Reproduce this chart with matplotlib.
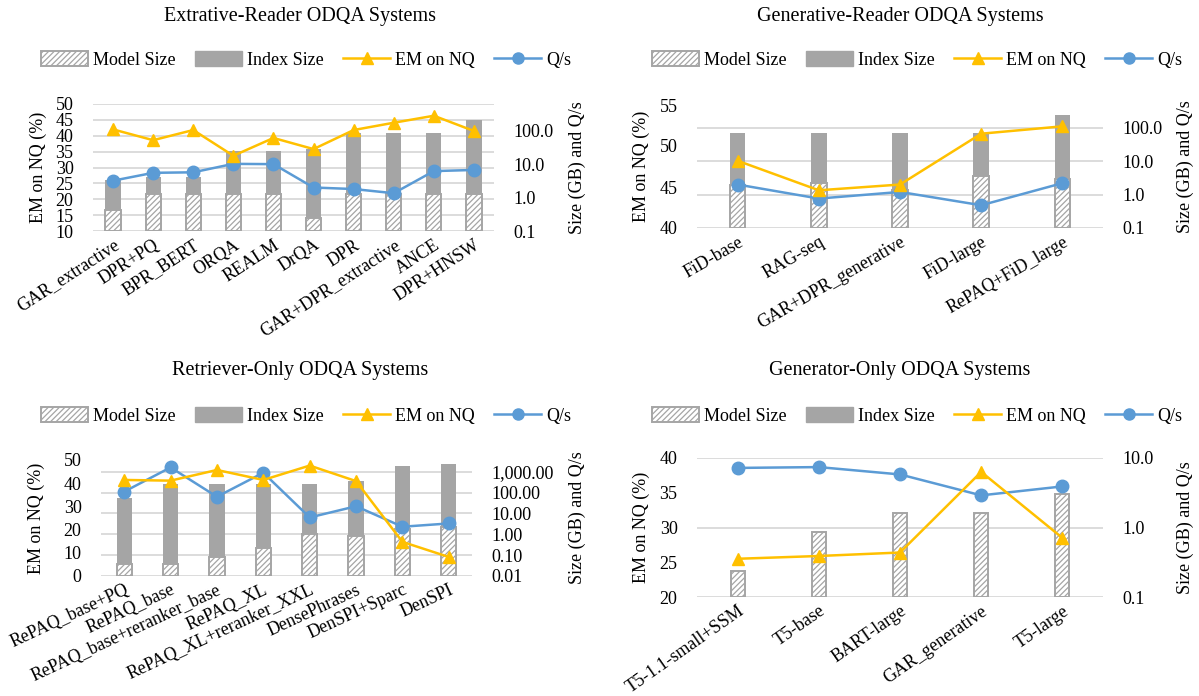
import numpy as np
import matplotlib
matplotlib.use('Agg')
import matplotlib.pyplot as plt
from matplotlib.patches import Patch
from matplotlib.lines import Line2D
from matplotlib import transforms
from matplotlib.ticker import FuncFormatter, NullLocator

# ---------------------------------------------------------------------------
# Data
# ---------------------------------------------------------------------------

ext_systems = ['GAR_extractive', 'DPR+PQ', 'BPR_BERT', 'ORQA', 'REALM', 'DrQA',
               'DPR', 'GAR+DPR_extractive', 'ANCE', 'DPR+HNSW']
ext_model = [0.43, 1.3, 1.3, 1.3, 1.3, 0.25, 1.3, 1.3, 1.3, 1.3]
ext_index = [3.3, 4.0, 4.0, 24, 24, 28, 87, 87, 87, 205]
ext_em = [42.0, 38.6, 41.8, 33.7, 39.3, 35.8, 41.8, 44.1, 46.3, 41.5]
ext_qps = [3.2, 5.5, 5.7, 10.2, 10.0, 2.0, 1.8, 1.35, 6.2, 6.7]

gen_systems = ['FiD-base', 'RAG-seq', 'GAR+DPR_generative', 'FiD-large',
               'RePAQ+FiD_large']
gen_model = [1.9, 2.2, 1.35, 3.5, 3.0]
gen_index = [71, 71, 71, 71, 240]
gen_em = [48.2, 44.6, 45.3, 51.5, 52.4]
gen_qps = [2.0, 0.76, 1.2, 0.48, 2.2]

ret_systems = ['RePAQ_base+PQ', 'RePAQ_base', 'RePAQ_base+reranker_base',
               'RePAQ_XL', 'RePAQ_XL+reranker_XXL', 'DensePhrases',
               'DenSPI+Sparc', 'DenSPI']
ret_model = [0.039, 0.039, 0.082, 0.22, 1.0, 0.81, 1.7, 2.3]
ret_index = [56, 255, 255, 255, 255, 370, 1870, 2340]
ret_em = [41.4, 41.1, 45.7, 41.4, 47.6, 40.9, 14.7, 8.2]
ret_qps = [110, 1600, 63, 890, 6.4, 22, 2.3, 3.3]

gon_systems = ['T5-1.1-small+SSM', 'T5-base', 'BART-large', 'GAR_generative',
               'T5-large']
gon_model = [0.24, 0.87, 1.6, 1.6, 3.0]
gon_index = [0, 0, 0, 0, 0]
gon_em = [25.5, 25.9, 26.4, 38.0, 28.5]
gon_qps = [7.2, 7.4, 5.8, 2.9, 3.9]

# ---------------------------------------------------------------------------
# Style
# ---------------------------------------------------------------------------

plt.rcParams['font.family'] = ['Liberation Serif', 'DejaVu Serif']
plt.rcParams['hatch.linewidth'] = 0.9

GOLD = '#FFC000'
BLUE = '#5B9BD5'
GRAY = '#A5A5A5'
GRID = '#D9D9D9'
FS = 13

W, H = 1199, 696


def rect(x0, y0, x1, y1):
    return [x0 / W, 1 - y1 / H, (x1 - x0) / W, (y1 - y0) / H]


def draw_panel(fig, box, title, title_xy, legend_xy, ylab_x, names, model,
               index, em, qps, em_ticks, size_lim, size_ticks, size_fmt,
               left_grid, bar_w, rot):
    ax = fig.add_axes(rect(*box))
    axs = ax.twinx()
    ax.set_zorder(axs.get_zorder() + 1)
    ax.patch.set_visible(False)

    x = np.arange(len(names))
    lo = size_lim[0]
    axs.set_yscale('log')
    axs.set_ylim(*size_lim)

    # bars on the size (log) axis, starting at the axis minimum
    idx = np.array(index, dtype=float)
    mdl = np.array(model, dtype=float)
    axs.bar(x, np.maximum(idx - lo, 0), bottom=lo, width=bar_w,
            color=GRAY, zorder=2)
    axs.bar(x, mdl - lo, bottom=lo, width=bar_w, facecolor='white',
            edgecolor=GRAY, hatch='//////', linewidth=1.4, zorder=3)
    axs.plot(x, qps, '-o', color=BLUE, lw=1.8, ms=9, zorder=4)
    ax.plot(x, em, '-^', color=GOLD, lw=1.8, ms=9, zorder=4)

    ax.set_xlim(-0.5, len(names) - 0.5)
    ax.set_ylim(em_ticks[0], em_ticks[-1])
    ax.set_yticks(em_ticks)
    axs.set_yticks(size_ticks)
    axs.yaxis.set_minor_locator(NullLocator())
    axs.yaxis.set_major_formatter(FuncFormatter(lambda v, p: size_fmt.format(v)))

    # gridlines sit behind the bars
    if left_grid:
        tr = transforms.blended_transform_factory(axs.transAxes, ax.transData)
        for t in em_ticks:
            axs.plot([0, 1], [t, t], transform=tr, color=GRID, lw=1.3, zorder=0)
    else:
        for t in size_ticks:
            axs.axhline(t, color=GRID, lw=1.3, zorder=0)

    ax.set_xticks(x)
    ax.set_xticklabels(names, rotation=rot, ha='right', rotation_mode='anchor')
    for a in (ax, axs):
        for s in a.spines.values():
            s.set_visible(False)
        a.tick_params(length=0, labelsize=FS)
    ax.tick_params(axis='x', pad=4)
    ax.tick_params(axis='y', pad=14)
    axs.tick_params(axis='y', pad=14)

    ymid = 1 - (box[1] + box[3]) / 2 / H
    fig.text(ylab_x[0] / W, ymid, 'EM on NQ (%)', rotation=90,
             ha='center', va='center', fontsize=FS)
    fig.text(ylab_x[1] / W, ymid, 'Size (GB) and Q/s', rotation=90,
             ha='center', va='center', fontsize=FS)
    fig.text(title_xy[0] / W, 1 - title_xy[1] / H, title,
             ha='center', va='center', fontsize=14.5)

    handles = [
        Patch(facecolor='white', edgecolor=GRAY, hatch='//////', linewidth=1.4),
        Patch(facecolor=GRAY, edgecolor=GRAY),
        Line2D([], [], color=GOLD, lw=1.8, marker='^', ms=8),
        Line2D([], [], color=BLUE, lw=1.8, marker='o', ms=8),
    ]
    labels = ['Model Size', 'Index Size', 'EM on NQ', 'Q/s']
    fig.legend(handles, labels, loc='center',
               bbox_to_anchor=(legend_xy[0] / W, 1 - legend_xy[1] / H),
               ncol=4, frameon=False, fontsize=FS, handlelength=2.6,
               handleheight=0.9, handletextpad=0.25, columnspacing=1.1)


fig = plt.figure(figsize=(11.99, 6.96), dpi=100)

draw_panel(fig, (93, 104, 494, 231), 'Extrative-Reader ODQA Systems',
           (300, 16), (306, 60), (38, 577),
           ext_systems, ext_model, ext_index, ext_em, ext_qps,
           np.arange(10, 51, 5), (0.1, 630), [0.1, 1, 10, 100], '{:.1f}',
           True, 0.38, 33)

draw_panel(fig, (697, 105, 1103, 228), 'Generative-Reader ODQA Systems',
           (900, 16), (917, 60), (641, 1185),
           gen_systems, gen_model, gen_index, gen_em, gen_qps,
           np.arange(40, 56, 5), (0.1, 480), [0.1, 1, 10, 100], '{:.1f}',
           False, 0.19, 30)

draw_panel(fig, (101, 460, 472, 576), 'Retriever-Only ODQA Systems',
           (300, 371), (306, 416), (36, 577),
           ret_systems, ret_model, ret_index, ret_em, ret_qps,
           np.arange(0, 51, 10), (0.01, 3630), [0.01, 0.1, 1, 10, 100, 1000],
           '{:,.2f}', False, 0.33, 25)

draw_panel(fig, (697, 458, 1103, 597), 'Generator-Only ODQA Systems',
           (900, 371), (917, 416), (641, 1185),
           gon_systems, gon_model, gon_index, gon_em, gon_qps,
           np.arange(20, 41, 5), (0.1, 10), [0.1, 1, 10], '{:.1f}',
           False, 0.17, 35)

fig.savefig('out.png', dpi=100)
